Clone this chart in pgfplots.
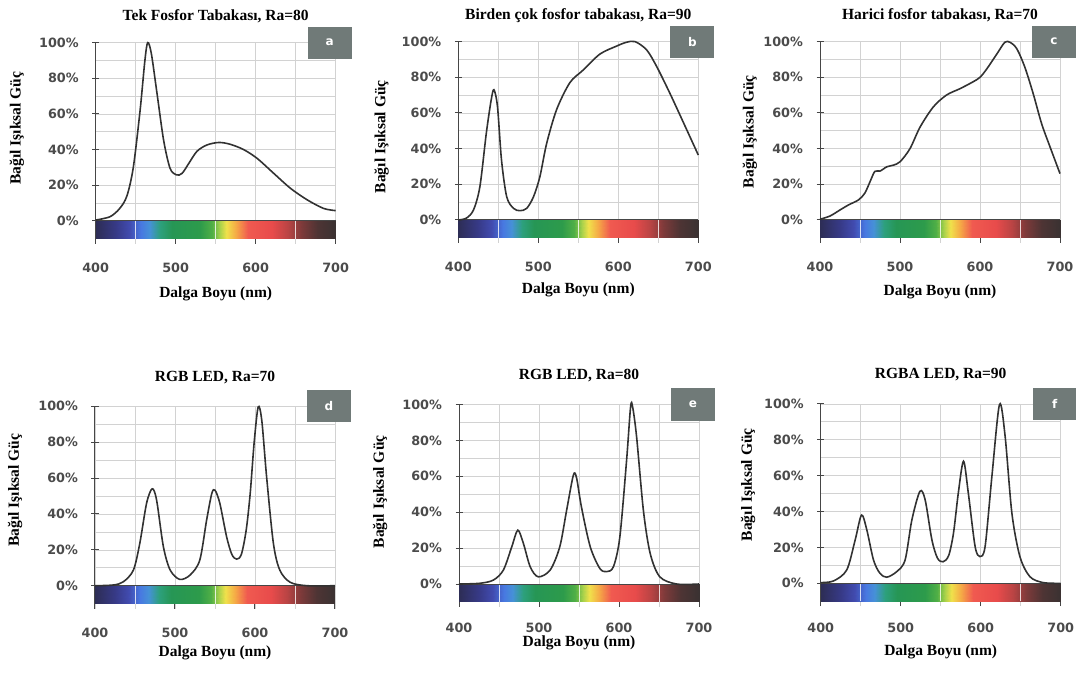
\documentclass[border=0pt]{standalone}
\usepackage{pgfplots}
\pgfplotsset{compat=1.18}
\usepackage{pgfplotstable}
\usepackage{fontspec}
\setmainfont{Liberation Serif}
\newfontfamily\tickfont{DejaVu Sans}

\definecolor{curvecol}{RGB}{50,50,50}
\definecolor{gridcol}{RGB}{210,210,210}
\definecolor{axiscol}{RGB}{70,70,70}
\definecolor{tickcol}{RGB}{75,75,75}
\definecolor{boxcol}{RGB}{112,122,120}

% spectrum strip, two rows (y=-10 and y=0), coloured by wavelength
\pgfplotstableread[row sep=\\]{
x y\\
400 -10\\ 405 -10\\ 410 -10\\ 415 -10\\ 420 -10\\ 425 -10\\ 430 -10\\ 435 -10\\ 440 -10\\ 445 -10\\
450 -10\\ 455 -10\\ 460 -10\\ 465 -10\\ 470 -10\\ 475 -10\\ 480 -10\\ 485 -10\\ 490 -10\\ 495 -10\\
500 -10\\ 505 -10\\ 510 -10\\ 515 -10\\ 520 -10\\ 525 -10\\ 530 -10\\ 535 -10\\ 540 -10\\ 545 -10\\
550 -10\\ 555 -10\\ 560 -10\\ 565 -10\\ 570 -10\\ 575 -10\\ 580 -10\\ 585 -10\\ 590 -10\\ 595 -10\\
600 -10\\ 605 -10\\ 610 -10\\ 615 -10\\ 620 -10\\ 625 -10\\ 630 -10\\ 635 -10\\ 640 -10\\ 645 -10\\
650 -10\\ 655 -10\\ 660 -10\\ 665 -10\\ 670 -10\\ 675 -10\\ 680 -10\\ 685 -10\\ 690 -10\\ 695 -10\\
700 -10\\
400 0\\ 405 0\\ 410 0\\ 415 0\\ 420 0\\ 425 0\\ 430 0\\ 435 0\\ 440 0\\ 445 0\\
450 0\\ 455 0\\ 460 0\\ 465 0\\ 470 0\\ 475 0\\ 480 0\\ 485 0\\ 490 0\\ 495 0\\
500 0\\ 505 0\\ 510 0\\ 515 0\\ 520 0\\ 525 0\\ 530 0\\ 535 0\\ 540 0\\ 545 0\\
550 0\\ 555 0\\ 560 0\\ 565 0\\ 570 0\\ 575 0\\ 580 0\\ 585 0\\ 590 0\\ 595 0\\
600 0\\ 605 0\\ 610 0\\ 615 0\\ 620 0\\ 625 0\\ 630 0\\ 635 0\\ 640 0\\ 645 0\\
650 0\\ 655 0\\ 660 0\\ 665 0\\ 670 0\\ 675 0\\ 680 0\\ 685 0\\ 690 0\\ 695 0\\
700 0\\
}\specbar

\pgfplotstableread{
x y
400 0.5
418 2.4
430 7
439 14
447 30
455.5 62
461.5 90
465 100
469.5 94
476.5 72
485 45
493 29.5
501 25.8
508 26.7
516 32
526.5 39
539 42.6
554 44
568 43
585 40
602 35
622.5 26.7
643.5 18.3
664.5 11.8
685 7
700 5.8
}\dataA

\pgfplotstableread{
x y
400 0
410 1
419 5.6
427 18.7
435 48.6
441 67
444.5 73
449 63.5
454 33.6
460.5 13
469 6.5
477 5.2
485.5 6.5
494 13
502 24.3
510.5 43
523 62
539.5 77
556 84
577 93
598 97.5
610 99.6
621 100
635.5 95.3
648 86
664.5 71
681 55
700 36.4
}\dataB

\pgfplotstableread{
x y
400 0.4
412.5 2.2
425 5.6
435.5 8.4
448 11.2
456 15
462.5 21.4
468.5 27.2
475 27.4
483.5 29.8
491.5 30.7
500 32.6
512.5 40
525 52
541.5 63.3
558 70
575 73.6
591.5 77.5
600 80
608.5 84.7
621 93
631 99.6
637.5 99.6
646 96
656 85.7
666.5 70.8
677 54
687.5 41
700 26
}\dataC

\pgfplotstableread{
x y
400 0
423 0.4
435.5 2.2
448 8.7
456 23.6
464.5 46
471.5 54
477 47.7
485.5 21.7
494 8.7
506 3.5
519 6
531 14.3
539.5 36.5
546 51.4
550 53.2
556 46
564.5 27.3
571 17.5
577 14.8
583 17.5
589 31
594 51.4
599 80
604 99.6
608.5 92
614.5 60.7
623 23.6
631 8.7
644 1.9
665 0
700 0
}\dataD

\pgfplotstableread{
x y
400 0
426 0.4
443 2.2
455.5 7.8
466 20.8
473.5 30
480.5 22.6
489 9.6
499 4
514 7.8
526 20.8
534.5 41
543 60.7
547 59
553 43
564 20.8
576 8.7
584.5 6.9
593 9.6
601 26
609.5 69
614.5 98.7
617 98.7
622 82
630.5 41
639 17
651 4
672 0
700 0
}\dataE

\pgfplotstableread{
x y
400 0.4
416 1.3
432.5 7.4
443 24
451 38
457.5 30
466 13
474 5.6
482.5 3.4
495 6.5
505.5 13
514 35.4
524 51.2
530.5 46.6
539 24.2
546 14
553 12
560 15.5
566 28
572 50.3
578.5 68
584.5 50.3
593 20.5
599 14.9
605.5 20.5
614 59.6
623.5 99.6
630.5 82
639 39
649 14.9
661.5 3.7
678 0.4
700 0
}\dataF

\pgfplotsset{
  spec/.style={
    scale only axis, width=240pt, height=201pt,
    xmin=400, xmax=700, ymin=-12.7, ymax=100,
    clip=false,
    axis x line*=bottom, axis y line*=left,
    x axis line style={draw=none},
    y axis line style={draw=axiscol, line width=1pt},
    xtick={400,500,600,700}, minor xtick={450,550,650},
    ytick={0,20,...,100}, minor ytick={10,30,...,90},
    grid=both,
    major grid style={draw=gridcol, line width=0.6pt},
    minor grid style={draw=gridcol, line width=0.6pt},
    minor tick length=0pt,
    major tick length=7pt,
    xtick align=inside,
    ytick align=center,
    tick style={draw=axiscol, line width=1pt},
    /pgf/number format/assume math mode=true,
    tick label style={font=\tickfont\bfseries\fontsize{12.8}{15}\selectfont, text=tickcol},
    yticklabel={\pgfmathprintnumber{\tick}\%},
    xticklabel style={anchor=center, yshift=-24pt},
    yticklabel style={anchor=east, xshift=-10pt},
    title style={font=\bfseries\fontsize{15.5}{18}\selectfont, anchor=center, at={(0.5,1)}, yshift=20pt},
    label style={font=\bfseries\fontsize{15.5}{18}\selectfont},
    xlabel={Dalga Boyu (nm)},
    ylabel={Bağıl Işıksal Güç},
    colormap={spectrum}{rgb255(400pt)=(45,45,85); rgb255(425pt)=(55,58,135);
      rgb255(442pt)=(65,75,175); rgb255(456pt)=(72,120,225); rgb255(467pt)=(70,145,215);
      rgb255(480pt)=(45,160,125); rgb255(495pt)=(38,150,85); rgb255(530pt)=(45,155,75);
      rgb255(545pt)=(80,175,70); rgb255(555pt)=(170,210,75); rgb255(563pt)=(240,225,75);
      rgb255(575pt)=(245,170,70); rgb255(590pt)=(240,90,80); rgb255(620pt)=(232,75,75);
      rgb255(640pt)=(185,68,68); rgb255(657pt)=(125,58,58); rgb255(677pt)=(78,52,52);
      rgb255(700pt)=(58,50,50)},
    point meta min=400, point meta max=700,
  },
}

% common layers of one panel: strip, white marks on it, 0% line, curve, letter box
\newcommand{\panel}[2]{%
  \addplot[surf, shader=interp, mesh/rows=2, point meta=x] table[x=x, y=y] {\specbar};
  \addplot[white, opacity=0.8, line width=0.8pt, unbounded coords=jump]
    coordinates {(450,-10) (450,0) (450,nan) (550,-10) (550,0) (550,nan) (650,-10) (650,0)};
  \addplot[axiscol, line width=1pt] coordinates {(400,0) (700,0)};
  \addplot[curvecol, line width=1.6pt, smooth] table[x=x, y=y] {#1};
  \fill[boxcol] (axis cs:665,91) rectangle (axis cs:720,109);
  \node[text=white, font=\tickfont\bfseries\fontsize{12}{14}\selectfont] at (axis cs:692.5,100) {#2};
}

\begin{document}
\begin{tikzpicture}
\useasboundingbox (0,0) rectangle (1076pt,673pt);

\begin{axis}[spec, at={(95.7pt,429.4pt)}, anchor=south west,
  title={Tek Fosfor Tabakası, Ra=80},
  ylabel style={at={(axis description cs:-0.328,0.574)}, anchor=center},
  xlabel style={at={(axis description cs:0.5,-0.249)}, anchor=center}]
\panel{\dataA}{a}
\end{axis}

\begin{axis}[spec, at={(458.3pt,430.4pt)}, anchor=south west,
  title={Birden çok fosfor tabakası, Ra=90},
  ylabel style={at={(axis description cs:-0.319,0.527)}, anchor=center},
  xlabel style={at={(axis description cs:0.5,-0.234)}, anchor=center}]
\panel{\dataB}{b}
\end{axis}

\begin{axis}[spec, at={(820pt,430.4pt)}, anchor=south west,
  title={Harici fosfor tabakası, Ra=70},
  ylabel style={at={(axis description cs:-0.292,0.552)}, anchor=center},
  xlabel style={at={(axis description cs:0.5,-0.244)}, anchor=center}]
\panel{\dataC}{c}
\end{axis}

\begin{axis}[spec, at={(95pt,64.5pt)}, anchor=south west, height=202.3pt,
  title={RGB LED, Ra=70}, title style={yshift=3pt},
  ylabel style={at={(axis description cs:-0.333,0.585)}, anchor=center},
  xlabel style={at={(axis description cs:0.5,-0.22)}, anchor=center}]
\panel{\dataD}{d}
\end{axis}

\begin{axis}[spec, at={(459pt,66.2pt)}, anchor=south west, height=202.3pt,
  title={RGB LED, Ra=80}, title style={yshift=3pt},
  xticklabel style={yshift=3pt},
  ylabel style={at={(axis description cs:-0.329,0.568)}, anchor=center},
  xlabel style={at={(axis description cs:0.5,-0.18)}, anchor=center}]
\panel{\dataE}{e}
\end{axis}

\begin{axis}[spec, at={(820.7pt,66.9pt)}, anchor=south west, height=202.3pt,
  title={RGBA LED, Ra=90}, title style={yshift=3pt},
  xticklabel style={yshift=2pt},
  ylabel style={at={(axis description cs:-0.302,0.60)}, anchor=center},
  xlabel style={at={(axis description cs:0.5,-0.227)}, anchor=center}]
\panel{\dataF}{f}
\end{axis}
\end{tikzpicture}
\end{document}
